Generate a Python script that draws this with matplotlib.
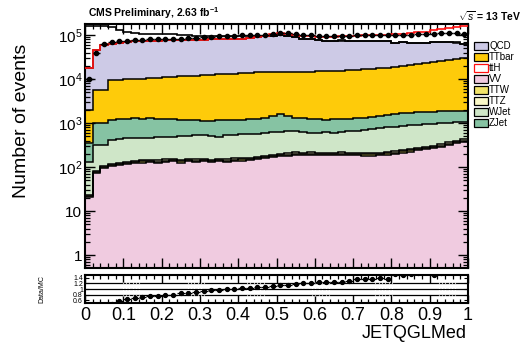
import numpy as np
import matplotlib
matplotlib.use("Agg")
import matplotlib.pyplot as plt
from matplotlib.patches import Rectangle
from matplotlib.ticker import FixedLocator, MultipleLocator, LogLocator, FuncFormatter, NullFormatter

plt.rcParams['font.family'] = ['Liberation Sans', 'DejaVu Sans']
plt.rcParams['mathtext.fontset'] = 'custom'
plt.rcParams['mathtext.rm'] = 'Liberation Sans'
plt.rcParams['mathtext.it'] = 'Liberation Sans:italic'
plt.rcParams['mathtext.bf'] = 'Liberation Sans:bold'

# ---- histogram contents (50 bins of JETQGLMed in [0, 1]) ----
n_bins = 50
edges = np.linspace(0.0, 1.0, n_bins + 1)

data = [10000, 39800, 61700, 69200, 72400, 74100, 75900, 77600, 79400, 79400,
        81300, 81300, 83200, 85100, 87100, 89100, 91200, 93300, 95500, 95500,
        97700, 97700, 100000, 102300, 107200, 112200, 109600, 104700, 100000, 97700,
        95500, 93300, 93300, 93300, 95500, 97700, 100000, 100000, 100000, 100000,
        102300, 102300, 102300, 104700, 104700, 107200, 109600, 112200, 112200, 107200]

mc_total = [160000, 159000, 158000, 150400, 129300, 117600, 110000, 106300, 105900, 104500,
            105600, 102900, 99000, 97800, 95700, 95800, 94000, 97200, 96500, 94600,
            95800, 93000, 94300, 94700, 97500, 99300, 95300, 88700, 83300, 80100,
            77000, 74600, 74000, 75200, 73500, 72400, 74600, 73500, 72500, 73500,
            67300, 68200, 66400, 66300, 65400, 71000, 69400, 69300, 68000, 63100]

vv = [21, 72, 95, 105, 112, 117, 123, 126, 129, 126, 132, 135, 126, 138, 132, 135, 129, 138, 132, 138,
      141, 145, 151, 158, 166, 174, 182, 191, 186, 191, 186, 186, 186, 191, 186, 186, 182, 182, 186, 191,
      200, 214, 224, 240, 251, 269, 288, 316, 347, 372]

ttw = [1.2, 4, 5, 6, 7, 7, 7, 8, 8, 7, 8, 8, 8, 8, 9, 8, 8, 8, 8, 9,
       9, 9, 9, 10, 10, 10, 11, 11, 11, 12, 11, 12, 11, 12, 12, 12, 13, 13, 13, 13,
       14, 15, 15, 17, 18, 19, 20, 22, 24, 25]

ttz = [1.5, 5, 6, 7, 8, 8, 9, 9, 9, 9, 10, 10, 9, 10, 10, 10, 10, 10, 10, 10,
       11, 11, 11, 12, 12, 13, 13, 14, 14, 14, 14, 14, 14, 14, 14, 14, 14, 14, 14, 15,
       15, 16, 17, 18, 19, 20, 22, 24, 26, 28]

wjet = [108, 235, 210, 300, 310, 315, 318, 314, 322, 337, 329, 337, 358, 357, 374, 372, 354, 323, 375, 380,
        389, 397, 404, 423, 429, 434, 455, 460, 420, 386, 378, 405, 392, 414, 434, 449, 483, 515, 546, 575,
        603, 626, 635, 637, 667, 669, 670, 661, 650, 647]

zjet = [223, 684, 684, 785, 822, 812, 831, 802, 820, 780, 780, 740, 701, 662, 623, 597, 621, 669, 650, 665,
        652, 668, 684, 715, 828, 954, 784, 642, 687, 656, 670, 585, 627, 628, 613, 627, 626, 656, 686, 720,
        753, 789, 807, 826, 823, 843, 862, 839, 858, 833]

ttbar = [1640, 4620, 4620, 8130, 8290, 8510, 8710, 8970, 9180, 9460, 9700, 9990, 10280, 10580, 10870,
         11180, 11470, 11730, 11710, 11980, 12290, 12570, 12870, 13130, 13350, 13210, 13350, 13470, 13470,
         13530, 13880, 13940, 14260, 14230, 14590, 14930, 15280, 15600, 15940, 16690, 17470, 18290, 19190,
         20140, 21130, 22170, 23260, 25060, 26280, 27610]

qcd = [15790, 39050, 53260, 53770, 58060, 61020, 62440, 62210, 63660, 63410, 64900, 64640, 64380, 65870,
       65600, 65320, 66840, 66550, 68400, 68100, 69690, 71310, 75000, 79550, 82210, 84010, 80010, 73410,
       68010, 64810, 61360, 58960, 58010, 59210, 57150, 55680, 57500, 56020, 54620, 54800, 47750, 47750,
       45010, 43920, 41990, 46510, 43780, 41880, 39320, 33090]

tth = [17780, 44670, 58880, 63100, 67610, 70790, 72440, 72440, 74130, 74130, 75860, 75860, 75860, 77620,
       77620, 77620, 79430, 79430, 81280, 81280, 83180, 85110, 89130, 95500, 104700, 112200, 107200, 100000,
       95500, 93330, 91200, 91200, 91200, 93330, 93330, 95500, 97720, 100000, 100000, 102300, 104700,
       107200, 109600, 114800, 120200, 128800, 138000, 147900, 154900, 158500]

legend_labels = ["QCD", "TTbar", "ttH", "VV", "TTW", "TTZ", "WJet", "ZJet"]

colors = {
    "QCD": "#cdcae6",
    "TTbar": "#fecb0a",
    "ttH": "#ffffff",
    "VV": "#f0cbe0",
    "TTW": "#f2e46a",
    "TTZ": "#fbf9c8",
    "WJet": "#cfe6c8",
    "ZJet": "#86c3a3",
}

# stacking order, bottom to top
stack = [("VV", vv), ("TTW", ttw), ("TTZ", ttz), ("WJet", wjet),
         ("ZJet", zjet), ("TTbar", ttbar), ("QCD", qcd)]

W, H = 522, 344
fig = plt.figure(figsize=(W / 100, H / 100), dpi=100)

def fx(px):
    return px / W

def fy(py):
    return 1 - py / H

ax = fig.add_axes([fx(85), fy(268), fx(468) - fx(85), fy(24) - fy(268)])
rax = fig.add_axes([fx(85), fy(303), fx(468) - fx(85), fy(275) - fy(303)])

centers = 0.5 * (edges[:-1] + edges[1:])
half = 0.5 * (edges[1] - edges[0])

# ---- stacked backgrounds ----
cum = np.zeros(n_bins)
tops = []
for name, vals in stack:
    top = cum + np.asarray(vals, dtype=float)
    ax.stairs(top, edges, baseline=np.maximum(cum, 1e-3), fill=True,
              color=colors[name], lw=0, zorder=1)
    tops.append(top)
    cum = top
for top in tops:
    ax.stairs(top, edges, baseline=None, color="black", lw=1.1, zorder=2)

ax.stairs(mc_total, edges, baseline=None, color="black", lw=1.2, zorder=3)
ax.stairs(tth, edges, baseline=None, color="#ff1010", lw=1.2, zorder=4)

data_arr = np.asarray(data, dtype=float)
ax.errorbar(centers, data_arr, xerr=half, yerr=np.sqrt(data_arr), fmt="o",
            ms=3.0, color="black", lw=1.0, capsize=0, zorder=5)

ax.set_yscale("log")
ax.set_xlim(0, 1)
ax.set_ylim(0.51, 1.78e5)

def log_fmt(v, pos):
    e = int(round(np.log10(v)))
    if e == 0:
        return "1"
    if e == 1:
        return "10"
    return r"$10^{%d}$" % e

ax.yaxis.set_major_locator(LogLocator(base=10, numticks=10))
ax.yaxis.set_minor_locator(LogLocator(base=10, subs=np.arange(2, 10), numticks=20))
ax.yaxis.set_major_formatter(FuncFormatter(log_fmt))
ax.yaxis.set_minor_formatter(NullFormatter())
ax.xaxis.set_major_locator(MultipleLocator(0.1))
ax.xaxis.set_minor_locator(MultipleLocator(0.02))
ax.tick_params(which="both", direction="in", top=True, right=True, labelbottom=False)
ax.tick_params(which="major", length=7, width=1.0, labelsize=11, pad=2)
ax.tick_params(which="minor", length=3.5, width=0.9)
for s in ax.spines.values():
    s.set_linewidth(1.5)

# ---- ratio panel ----
mc_arr = np.asarray(mc_total, dtype=float)
ratio = data_arr / mc_arr
ratio_err = np.sqrt(data_arr) / mc_arr

for lvl in (0.8, 1.0, 1.2):
    rax.axhline(lvl, color="black", lw=0.9, zorder=1)
# dotted breaks in the reference lines
for c in (0.12, 0.29, 0.445, 0.615, 0.78, 0.945):
    for dx in np.linspace(-0.022, 0.022, 6):
        rax.plot([c + dx, c + dx], [0.74, 1.26], color="white", lw=0.8,
                 ls=(0, (1, 1.3)), zorder=2)

rax.errorbar(centers, ratio, xerr=half, yerr=ratio_err, fmt="o", ms=2.8,
             color="black", lw=0.9, capsize=0, zorder=3)
rax.set_xlim(0, 1)
rax.set_ylim(0.5, 1.5)
rax.yaxis.set_major_locator(FixedLocator([0.6, 0.8, 1.0, 1.2, 1.4]))
rax.set_yticklabels(["0.6", "0.8", "1", "1.2", "1.4"])
rax.xaxis.set_major_locator(MultipleLocator(0.1))
rax.xaxis.set_minor_locator(MultipleLocator(0.02))
rax.xaxis.set_major_formatter(FuncFormatter(lambda v, p: "%g" % round(v, 1)))
rax.tick_params(which="both", direction="in", top=True, right=True)
rax.tick_params(axis="x", which="major", length=6, width=1.0, labelsize=13, pad=3)
rax.tick_params(axis="x", which="minor", length=3, width=0.9)
rax.tick_params(axis="y", which="major", length=3, width=0.8, labelsize=5, pad=1.5)
for s in rax.spines.values():
    s.set_linewidth(1.5)

# ---- text ----
fig.text(fx(22), fy(121), "Number of events", rotation=90, ha="center",
         va="center", fontsize=14)
fig.text(fx(467), fy(334), "JETQGLMed", ha="right", va="center", fontsize=13)
fig.text(fx(42), fy(289), "Data/MC", rotation=90, ha="center", va="center", fontsize=5)
fig.text(fx(88), fy(13), r"CMS Preliminary, 2.63 fb$^{\mathbf{-1}}$", ha="left",
         va="center", fontsize=7.5, fontweight="bold")
fig.text(fx(521), fy(16), r"$\sqrt{s}$ = 13 TeV", ha="right", va="center",
         fontsize=7.5, fontweight="bold")

# ---- legend ----
for i, name in enumerate(legend_labels):
    yc = 46 + i * 11
    edge = "#ff1010" if name == "ttH" else "black"
    fig.add_artist(Rectangle((fx(474), fy(yc + 4)), fx(14), fy(yc - 4) - fy(yc + 4),
                             transform=fig.transFigure, facecolor=colors[name],
                             edgecolor=edge, lw=0.9))
    fig.text(fx(489), fy(yc), name, ha="left", va="center", fontsize=7)

fig.savefig("out.png", dpi=100)
